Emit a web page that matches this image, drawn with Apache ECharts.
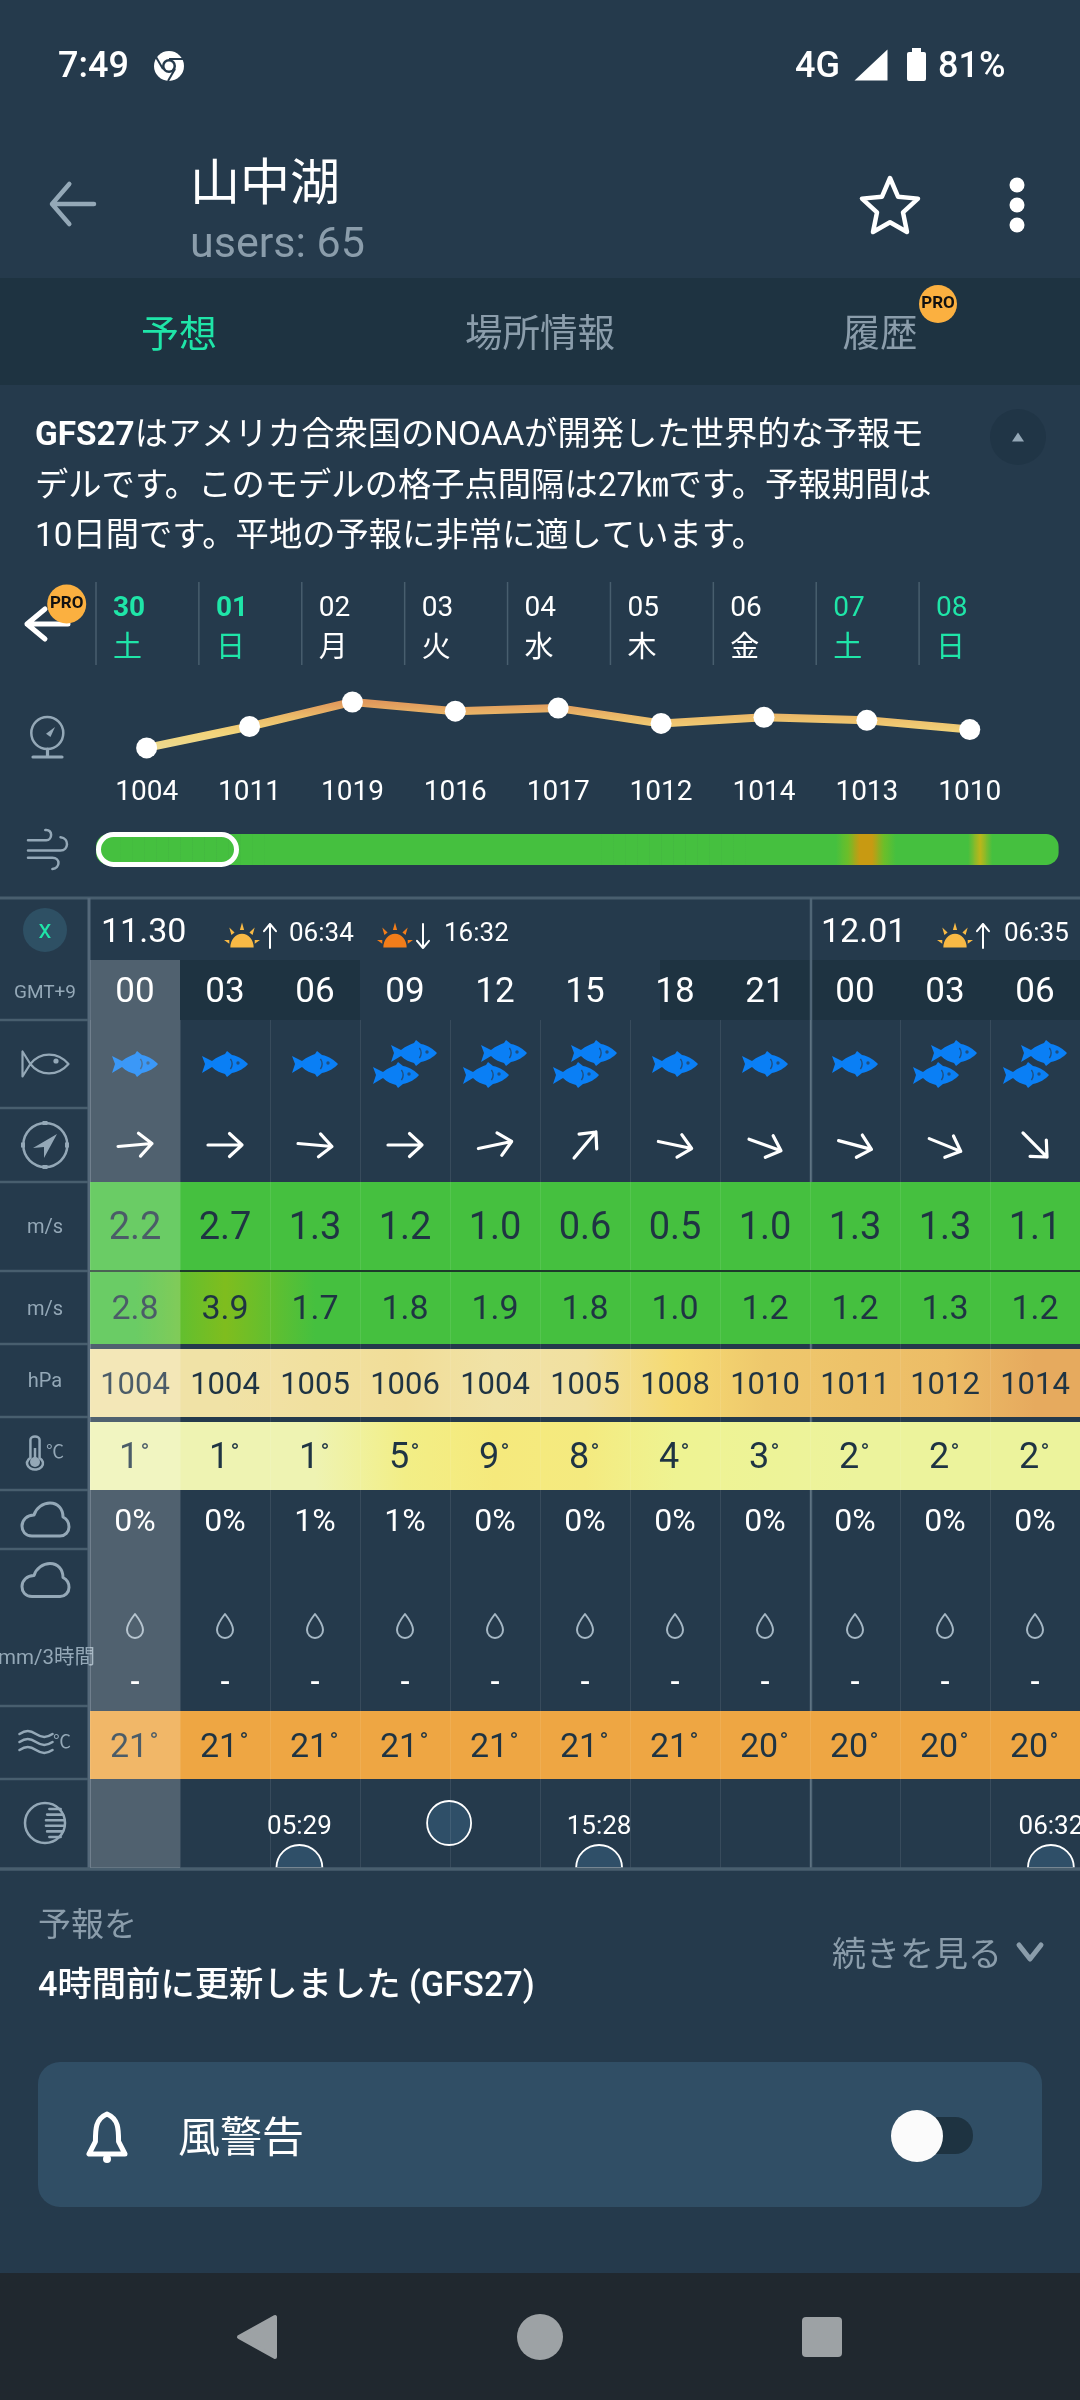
<!DOCTYPE html>
<html>
<head>
<meta charset="utf-8">
<title>山中湖</title>
<style>html,body{margin:0;padding:0;background:#253a4c}#main{width:1080px;height:2400px}</style>
<script src="https://cdn.jsdelivr.net/npm/echarts@6/dist/echarts.min.js"></script>
</head>
<body>
<div id="main"></div>
<script>
// daily strip
const dayNums = ['30', '01', '02', '03', '04', '05', '06', '07', '08']
const weekDays = ['土', '日', '月', '火', '水', '木', '金', '土', '日']
const pressureDaily = [1004, 1011, 1019, 1016, 1017, 1012, 1014, 1013, 1010]
const windStrip = [
  1.5, 1.6, 1.4, 1.3, 1.2, 1.3, 1.4, 1.5, 1.3, 1.2, 1.4, 1.6,
  1.7, 1.5, 1.4, 1.3, 1.5, 1.6, 1.4, 1.3, 1.2, 1.4, 1.5, 1.6,
  1.4, 1.3, 1.5, 1.7, 1.6, 1.4, 1.3, 1.2, 1.3, 1.5, 1.7, 1.5,
  1.4, 1.3, 1.5, 1.6, 1.4, 1.3, 1.5, 1.7, 1.8, 1.6, 1.4, 1.5,
  1.6, 1.8, 1.9, 1.7, 1.6, 1.5, 1.6, 1.8, 2.0, 2.2, 2.4, 2.6,
  2.4, 2.4, 3.6, 6.0, 6.2, 3.6, 2.4, 2.4, 2.2, 2.2, 2.4, 2.4,
  2.6, 5.2, 2.8, 2.4, 2.4, 2.2, 2.0, 1.8
]
// 3 hourly table
const hours = ['00', '03', '06', '09', '12', '15', '18', '21', '00', '03', '06']
const fishCount = [1, 1, 1, 2, 2, 2, 1, 1, 1, 2, 2]
const windDir = [-5, 0, 5, 0, -12, -50, 12, 20, 15, 22, 45]
const windSpeed = [2.2, 2.7, 1.3, 1.2, 1.0, 0.6, 0.5, 1.0, 1.3, 1.3, 1.1]
const windGust = [2.8, 3.9, 1.7, 1.8, 1.9, 1.8, 1.0, 1.2, 1.2, 1.3, 1.2]
const pressure3h = [1004, 1004, 1005, 1006, 1004, 1005, 1008, 1010, 1011, 1012, 1014]
const temperature = [1, 1, 1, 5, 9, 8, 4, 3, 2, 2, 2]
const cloudCover = [0, 0, 1, 1, 0, 0, 0, 0, 0, 0, 0]
const rainfall = ['-', '-', '-', '-', '-', '-', '-', '-', '-', '-', '-']
const waterTemp = [21, 21, 21, 21, 21, 21, 21, 20, 20, 20, 20]
// moon events, hours counted from 11.30 00:00
const moonHours = [5.48, 10.47, 15.47, 30.53]
const moonLabels = ['05:29', '', '15:28', '06:32']

const FONT = 'Roboto, "Noto Sans CJK JP", sans-serif'
const WHITE = '#ffffff'
const GREY = '#8b9dab'
const ICON = '#94a8b7'
const DARK = '#1f3443'
const BG = '#253a4c'
const TEAL = '#1fe5a8'
const ORANGE = '#fbb040'
const LINE = '#485e6e'
const { LinearGradient } = echarts.graphic

const myChart = echarts.init(document.getElementById('main'), null, { width: 1080, height: 2400 })

// colour scales of the app
const windScale = [[0, '#45c03f'], [3, '#45c03f'], [3.9, '#7fbd1e'], [5, '#b8bd1c'], [6, '#c89a12']]
const pressureScale = [[1004, '#f0e2a6'], [1006, '#f1dd98'], [1008, '#f5da72'], [1010, '#eec86c'], [1012, '#ecbc66'], [1014, '#e6aa5e']]
const tempScale = [[1, '#eef3b2'], [2, '#ecf39c'], [4, '#eef392'], [5, '#f2ee86'], [9, '#f5e97c']]
const waterScale = [[20, '#eea643'], [21, '#eea643']]

function colorAt(v, scale) {
  if (v <= scale[0][0]) return scale[0][1]
  for (let i = 1; i < scale.length; i++) {
    if (v <= scale[i][0]) {
      const t = (v - scale[i - 1][0]) / (scale[i][0] - scale[i - 1][0])
      return echarts.color.lerp(t, [scale[i - 1][1], scale[i][1]])
    }
  }
  return scale[scale.length - 1][1]
}

function cellFill(vals, i, scale) {
  const cur = colorAt(vals[i], scale)
  const prev = i > 0 ? colorAt(vals[i - 1], scale) : cur
  const next = i < vals.length - 1 ? colorAt(vals[i + 1], scale) : cur
  return new LinearGradient(0, 0, 1, 0, [
    { offset: 0, color: echarts.color.lerp(0.5, [prev, cur]) },
    { offset: 0.5, color: cur },
    { offset: 1, color: echarts.color.lerp(0.5, [cur, next]) }
  ])
}

// y is where the middle of the digits should sit, canvas middle is ~3px too high
const txt = (text, x, y, size, fill, extra = {}) => ({
  type: 'text', x, y: y + 3, silent: true,
  style: { text, fontSize: size, fontFamily: FONT, fill, align: extra.align || 'center', verticalAlign: 'middle', fontWeight: extra.weight || 'normal', rich: extra.rich }
})
const icon = (d, x, y, w, h, style, extra = {}) => ({
  type: 'path', x, y, silent: true,
  shape: { pathData: d, layout: 'cover', x: -w / 2, y: -h / 2, width: w, height: h },
  style, ...extra
})
const strokeIcon = (color, width) => ({ fill: 'none', stroke: color, lineWidth: width, lineCap: 'round', lineJoin: 'round' })
const rect = (x, y, w, h, fill, r = 0) => ({ type: 'rect', silent: true, shape: { x, y, width: w, height: h, r }, style: { fill } })
const circle = (cx, cy, r, style) => ({ type: 'circle', silent: true, shape: { cx, cy, r }, style })
const hline = (x1, x2, y, color, w) => ({ type: 'line', silent: true, shape: { x1, y1: y, x2, y2: y }, style: { stroke: color, lineWidth: w } })
const vline = (x, y1, y2, color, w) => ({ type: 'line', silent: true, shape: { x1: x, y1, x2: x, y2 }, style: { stroke: color, lineWidth: w } })

const FISH = 'M-23-8 L-13-3 C-8-7-3-9 0-10 L2-13 L7-9 C14-8 20-3 23 0 C20 4 13 8 7 9 L2 13 L0 10 C-4 9-9 7-13 3 L-23 9 L-20 0 Z'
const FISH_OUTLINE = 'M8 13 C18 0 36 0 47 13 C36 26 18 26 8 13 L0 0 L0 26 L8 13'
const ARROW = 'M0 11.5 L34 11.5 M21.5 0 L34 11.5 L21.5 23'
const DROP = 'M8 0 C8 0 0 10 0 16 A8 8 0 0 0 16 16 C16 10 8 0 8 0 Z'
const CLOUD = 'M10 33 C3 33 0 28 0 23 C0 17 5 12 12 12 C14 5 21 0 28 0 C36 0 41 6 41 14 C45 16 47 20 47 24 C47 29 43 33 38 33 Z'
const SUN = 'M6 20 A11 11 0 0 1 28 20 Z M17 0 L19 6 L15 6 Z M5 4 L10 8 L7 10 Z M29 4 L27 10 L24 8 Z M0 14 L5 14 L5 17 Z M34 14 L29 17 L29 14 Z'

// grids / axes / series get pushed together
const grids = [], xAxes = [], yAxes = [], series = []
function addGrid(left, top, width, height, xAxis, yAxis) {
  grids.push({ left, top, width, height })
  xAxes.push({ gridIndex: grids.length - 1, type: 'category', axisLine: { show: false }, axisTick: { show: false }, axisLabel: { show: false }, ...xAxis })
  yAxes.push({ gridIndex: grids.length - 1, type: 'value', min: 0, max: 1, show: false, ...yAxis })
  return grids.length - 1
}
function addCustom(gridIndex, data, renderItem, z) {
  series.push({ type: 'custom', xAxisIndex: gridIndex, yAxisIndex: gridIndex, data, renderItem, z: z || 2, silent: true, animation: false })
}

// table row: one grid per row, one custom cell per column
function addRow(top, height, vals, drawCell) {
  const g = addGrid(90, top, 990, height, { data: hours.map((h, i) => i) })
  addCustom(g, vals.map((v, i) => [i, 0]), (params, api) => {
    const i = params.dataIndex
    const p = api.coord([i, 1])
    const size = api.size([1, 0])
    return { type: 'group', children: drawCell(i, vals[i], p[0], p[1], size[0], height) }
  })
}
const cell = (vals, scale, i, cx, y, w, h) => ({ type: 'rect', shape: { x: cx - w / 2, y, width: w + 0.6, height: h }, style: { fill: cellFill(vals, i, scale) } })
const heatRow = (top, height, vals, scale, fontSize, fmt) => addRow(top, height, vals, (i, v, cx, y, w, h) => [
  cell(vals, scale, i, cx, y, w, h),
  txt(fmt ? fmt(v) : String(v), cx, y + h / 2, fontSize, DARK)
])
// degrees: number a little left, small ring on the upper right
const degreeRow = (top, height, vals, scale, fontSize, ringDx) => addRow(top, height, vals, (i, v, cx, y, w, h) => [
  cell(vals, scale, i, cx, y, w, h),
  txt(String(v), cx - 6, y + h / 2, fontSize, DARK),
  txt('°', cx + ringDx, y + h / 2 - 5, 24, DARK)
])

// date strip on top of the line
{
  const g = addGrid(96, 582, 926, 83, { data: dayNums })
  addCustom(g, dayNums.map((d, i) => [i, 0]), (params, api) => {
    const i = params.dataIndex
    const x = api.coord([i, 0])[0] - api.size([1, 0])[0] / 2
    const weekend = weekDays[i] === '土' || weekDays[i] === '日'
    const color = weekend ? TEAL : WHITE
    return {
      type: 'group', children: [
        vline(x, 582, 665, LINE, 1.5),
        txt(dayNums[i], x + 17, 606, 28, color, { align: 'left', weight: i < 2 ? 'bold' : 'normal' }),
        txt(weekDays[i], x + 17, 647, 29, color, { align: 'left' })
      ]
    }
  })
}

// daily pressure line
let pressureLineIndex
{
  const g = addGrid(95.2, 698.9, 926, 61.3, {
    data: pressureDaily.map(String),
    axisLabel: { show: true, color: WHITE, fontSize: 28, fontFamily: FONT, margin: 19, interval: 0 }
  }, { min: 1000, max: 1020 })
  pressureLineIndex = series.length
  series.push({
    type: 'line', xAxisIndex: g, yAxisIndex: g, data: pressureDaily, showSymbol: false, lineStyle: { width: 8 },
    animation: false, silent: true, z: 2
  })
  series.push({
    type: 'scatter', xAxisIndex: g, yAxisIndex: g, data: pressureDaily, symbolSize: 21,
    itemStyle: { color: WHITE, opacity: 1 }, animation: false, silent: true, z: 3
  })
}

// wind summary strip
{
  const g = addGrid(96, 834, 962, 31, { data: windStrip.map((v, i) => i) })
  addCustom(g, windStrip.map((v, i) => [i, 0]), (params, api) => {
    const i = params.dataIndex
    const cx = api.coord([i, 1])[0]
    const w = api.size([1, 0])[0]
    const r = i === 0 ? [14, 0, 0, 14] : i === windStrip.length - 1 ? [0, 14, 14, 0] : 0
    return { type: 'rect', shape: { x: cx - w / 2, y: 834, width: w + 0.6, height: 31, r }, style: { fill: cellFill(windStrip, i, windScale) } }
  })
}

// column lines of the table, above the cells
addGrid(90, 1020, 990, 848, {
  data: hours.map((h, i) => i), z: 6,
  splitLine: { show: true, lineStyle: { color: 'rgba(255,255,255,0.09)', width: 1 } }
})

addRow(960, 60, hours, (i, v, cx) => [txt(v, cx, 990, 35, WHITE)])

addRow(1020, 88, fishCount, (i, v, cx) => {
  const fish = (x, y) => [
    icon(FISH, x, y, 46, 26, { fill: '#0a7ff5' }),
    { type: 'arc', shape: { cx: x - 2, cy: y, r: 9, startAngle: -0.6, endAngle: 0.6 }, style: { fill: 'none', stroke: '#1f4f80', lineWidth: 1.4 } },
    circle(x + 13, y - 1, 1.7, { fill: '#1f4f80' })
  ]
  return v === 1 ? fish(cx, 1064) : [...fish(cx + 9, 1053), ...fish(cx - 9, 1075)]
})

addRow(1108, 74, windDir, (i, v, cx) => [
  icon(ARROW, cx, 1145, 34, 23, strokeIcon(WHITE, 3.2), { rotation: -v * Math.PI / 180 })
])

heatRow(1182, 89, windSpeed, windScale, 38, v => v.toFixed(1))
heatRow(1271, 73, windGust, windScale, 34, v => v.toFixed(1))
heatRow(1349, 68, pressure3h, pressureScale, 31)
degreeRow(1422, 68, temperature, tempScale, 36, 10)
addRow(1490, 59, cloudCover, (i, v, cx) => [txt(v + '%', cx, 1520, 32, WHITE)])
addRow(1549, 157, rainfall, (i, v, cx) => [
  icon(DROP, cx, 1626, 16, 24, strokeIcon('#a5b7c4', 2)),
  txt(v, cx, 1681, 30, WHITE, { weight: 500 })
])
degreeRow(1711, 68, waterTemp, waterScale, 34, 19)

// moon row has an hour scale, category bands are 3 hours wide
{
  const g = addGrid(90, 1779, 990, 89, { type: 'value', min: -1.5, max: 31.5, show: false })
  addCustom(g, moonHours.map(h => [h, 0]), (params, api) => {
    const i = params.dataIndex
    const x = api.coord([moonHours[i], 0])[0]
    const border = { fill: '#2f4f68', stroke: WHITE, lineWidth: 1.8 }
    if (!moonLabels[i]) return circle(x, 1823, 22, border)
    return {
      type: 'group', children: [
        { type: 'sector', shape: { cx: x, cy: 1868, r: 23, r0: 0, startAngle: Math.PI, endAngle: Math.PI * 2 }, style: border },
        txt(moonLabels[i], x, 1824, 26, WHITE)
      ]
    }
  })
}

// everything around the chart, drawn under the cells
const chromeUnder = [
  // app bar
  rect(0, 278, 1080, 107, '#1e3341'),
  txt('7:49', 58, 65, 36, WHITE, { align: 'left', weight: 500 }),
  circle(169, 66, 15, { fill: WHITE }),
  circle(169, 66, 7, { fill: BG }),
  circle(169, 66, 4.5, { fill: WHITE }),
  hline(169, 183, 59, BG, 2),
  { type: 'line', silent: true, shape: { x1: 163, y1: 69, x2: 156, y2: 57 }, style: { stroke: BG, lineWidth: 2 } },
  { type: 'line', silent: true, shape: { x1: 175, y1: 69, x2: 168, y2: 81 }, style: { stroke: BG, lineWidth: 2 } },
  txt('4G', 795, 65, 36, WHITE, { align: 'left', weight: 500 }),
  icon('M30 0 L30 30 L0 30 Z', 871, 65, 33, 31, { fill: WHITE }),
  rect(907, 52, 19, 29, WHITE, 2),
  rect(912, 48, 9, 5, WHITE),
  txt('81%', 938, 65, 36, WHITE, { align: 'left', weight: 500 }),
  icon('M14 0 L0 16 L14 32 M0 16 L34 16', 73, 204, 42, 40, strokeIcon(ICON, 4.5)),
  txt('山中湖', 190, 184, 50, WHITE, { align: 'left' }),
  txt('users: 65', 190, 243, 43, GREY, { align: 'left' }),
  icon('M29 2 L37 21 L57 23 L42 37 L46 57 L29 47 L12 57 L16 37 L1 23 L21 21 Z', 890, 205, 56, 54, strokeIcon(WHITE, 4.5)),
  circle(1017, 185, 7.5, { fill: WHITE }),
  circle(1017, 205, 7.5, { fill: WHITE }),
  circle(1017, 225, 7.5, { fill: WHITE }),
  txt('予想', 179, 334, 38, TEAL),
  txt('場所情報', 540, 334, 37.5, GREY),
  txt('履歴', 880, 334, 37.5, GREY),
  circle(938, 304, 19, { fill: ORANGE }),
  txt('PRO', 938, 301, 17, '#111', { weight: 'bold' }),

  // model note
  txt('{b|GFS27}はアメリカ合衆国のNOAAが開発した世界的な予報モ', 35, 434, 33.3, WHITE, {
    align: 'left', rich: { b: { fontSize: 33.3, fontFamily: FONT, fontWeight: 'bold', fill: WHITE } }
  }),
  txt('デルです。このモデルの格子点間隔は27㎞です。予報期間は', 35, 485, 33.3, WHITE, { align: 'left' }),
  txt('10日間です。平地の予報に非常に適しています。', 35, 535, 33.3, WHITE, { align: 'left' }),
  circle(1018, 437, 28, { fill: '#203546' }),
  icon('M6 0 L12 10 L0 10 Z', 1018, 437, 12, 9, { fill: ICON }),

  // daily section icons
  icon('M18 0 L0 15 L18 30 M0 15 L41 15', 47.5, 624, 41, 30, strokeIcon(WHITE, 5)),
  circle(66.7, 604, 19.5, { fill: ORANGE }),
  txt('PRO', 66.7, 601, 17, '#111', { weight: 'bold' }),
  circle(47.3, 733, 16, { fill: 'none', stroke: ICON, lineWidth: 2.5 }),
  icon('M8 0 L4 9 L0 6 Z', 50.5, 732, 9, 10, { fill: ICON }),
  icon('M15 0 L15 7 M0 7 L30 7', 47.5, 753, 29, 8, strokeIcon(ICON, 3.2)),
  icon('M0 11 L18 11 C24 11 25 0 17 1 M0 21 L32 21 C40 21 41 9 32 8 M0 28 L24 28 C32 28 32 38 24 39', 47.5, 849.5, 39, 39, strokeIcon(ICON, 2.5)),

  // table frame
  hline(0, 1080, 898, LINE, 3),
  rect(180, 960, 180, 60, '#1e3341'),
  rect(660, 960, 420, 60, '#1e3341'),
  vline(89, 898, 1868, '#55697a', 3),
  vline(811, 898, 1868, '#506676', 2.5),
  circle(45, 930, 22, { fill: '#2e5064' }),
  txt('x', 45, 928, 26, TEAL),
  txt('11.30', 101, 930, 34, WHITE, { align: 'left' }),
  icon(SUN, 242, 935, 36, 25, { fill: '#f8b945' }),
  icon('M6 20 L6 0 M0 6 L6 0 L12 6', 270, 936, 12, 24, strokeIcon(WHITE, 2)),
  txt('06:34', 289, 931, 26, WHITE, { align: 'left' }),
  icon(SUN, 395, 935, 36, 25, { fill: '#f27d1a' }),
  icon('M6 0 L6 20 M0 14 L6 20 L12 14', 423, 936, 12, 24, strokeIcon(WHITE, 2)),
  txt('16:32', 444, 931, 26, WHITE, { align: 'left' }),
  txt('12.01', 821, 930, 34, WHITE, { align: 'left' }),
  icon(SUN, 955, 935, 36, 25, { fill: '#f8b945' }),
  icon('M6 20 L6 0 M0 6 L6 0 L12 6', 983, 936, 12, 24, strokeIcon(WHITE, 2)),
  txt('06:35', 1004, 931, 26, WHITE, { align: 'left' }),
  ...[1020, 1108, 1182, 1271, 1344, 1417, 1490, 1549, 1706, 1779].map(y => hline(0, 88, y, LINE, 2.5)),

  // row labels and icons
  txt('GMT+9', 45, 990, 19, ICON),
  icon(FISH_OUTLINE, 45.5, 1064, 46, 25, strokeIcon(ICON, 2.2)),
  circle(56, 1061, 2.6, { fill: ICON }),
  circle(45.3, 1145, 22, { fill: 'none', stroke: ICON, lineWidth: 2.5 }),
  icon('M24 0 L0 14 L11 13 L11 24 Z', 45, 1146, 24, 24, { fill: ICON }),
  rect(42.5, 1121, 5, 4, ICON), rect(42.5, 1165, 5, 4, ICON), rect(21, 1142.5, 4, 5, ICON), rect(65, 1142.5, 4, 5, ICON),
  txt('m/s', 45, 1225, 20, ICON),
  txt('m/s', 45, 1307, 20, ICON),
  txt('hPa', 45, 1379, 20, ICON),
  icon('M4 24 L4 4 A4 4 0 0 1 12 4 L12 24 A7 7 0 1 1 4 24 Z', 35, 1453, 16, 33, strokeIcon(ICON, 2.5)),
  circle(35, 1462, 5, { fill: ICON }),
  vline(35, 1448, 1462, ICON, 2.5),
  txt('℃', 55, 1450, 18, ICON),
  icon(CLOUD, 45.5, 1519.5, 47, 33, strokeIcon(ICON, 3)),
  icon(CLOUD, 45.5, 1580, 47, 33, strokeIcon(ICON, 3)),
  txt('mm/3時間', 46.5, 1656, 20.5, ICON),
  icon('M0 4 C6 0 10 0 16 4 C22 8 26 8 32 4 M0 12 C6 8 10 8 16 12 C22 16 26 16 32 12 M0 20 C6 16 10 16 16 20 C22 24 26 24 32 20', 36, 1742, 33, 22, strokeIcon(ICON, 2.6)),
  txt('℃', 62, 1740, 18, ICON),
  circle(45, 1823, 20, { fill: 'none', stroke: ICON, lineWidth: 2.5 }),
  icon('M3 0 L13 0 M1 6 L15 6 M0 12 L16 12 M0 18 L16 18 M1 24 L15 24 M3 30 L13 30', 55, 1823, 18, 28, strokeIcon(ICON, 2.6)),

  // footer
  txt('予報を', 38, 1925, 33, GREY, { align: 'left' }),
  txt('4時間前に更新しました (GFS27)', 38, 1984, 34.3, WHITE, { align: 'left', weight: 500 }),
  txt('続きを見る', 832, 1954, 34, GREY, { align: 'left' }),
  icon('M0 0 L11 14 L22 0', 1030, 1952, 22, 14, strokeIcon(GREY, 5)),
  rect(38, 2062, 1004, 145, '#304e65', 22),
  icon('M15 0 C6 4 6 12 6 22 L1 32 L29 32 L24 22 C24 12 24 4 15 0 Z', 107, 2134, 36, 40, strokeIcon(WHITE, 5)),
  circle(107, 2159, 4, { fill: WHITE }),
  txt('風警告', 178, 2138, 42, WHITE, { align: 'left' }),
  rect(917, 2117, 56, 37, '#1e3341', 18),
  circle(917, 2136, 26, { fill: '#fbfbfb' }),

  // system nav
  rect(0, 2273, 1080, 127, '#20282f'),
  icon('M40 0 L40 44 L0 22 Z', 257, 2337, 36, 40, { fill: '#9da2a5', stroke: '#9da2a5', lineWidth: 4, lineJoin: 'round' }),
  circle(540, 2337, 23, { fill: '#9da2a5' }),
  rect(802, 2317, 40, 40, '#9da2a5', 4)
]

// and the bits that lie over the cells
const chromeOver = [
  { type: 'rect', silent: true, shape: { x: 98.5, y: 834.5, width: 138, height: 30, r: 15 }, style: { fill: 'none', stroke: WHITE, lineWidth: 5 } },
  hline(90, 1080, 1271, '#1d3b2a', 2),
  hline(0, 1080, 1869, LINE, 3.5),
  rect(90, 960, 90, 908, 'rgba(255,255,255,0.2)')
]

const stage = addGrid(0, 0, 1080, 2400, { data: ['stage'] })
addCustom(stage, [[0, 0]], () => ({ type: 'group', children: chromeUnder }), 1)
addCustom(stage, [[0, 0]], () => ({ type: 'group', children: chromeOver }), 7)

const option = {
  backgroundColor: BG,
  animation: false,
  textStyle: { fontFamily: FONT },
  grid: grids,
  xAxis: xAxes,
  yAxis: yAxes,
  visualMap: {
    show: false, type: 'continuous', seriesIndex: pressureLineIndex, dimension: 1, min: 1004, max: 1019,
    inRange: { color: ['#ecd98f', '#f2d47a', '#ecbc6a', '#e0985c'] }
  },
  series
}

myChart.setOption(option)
</script>
</body>
</html>
